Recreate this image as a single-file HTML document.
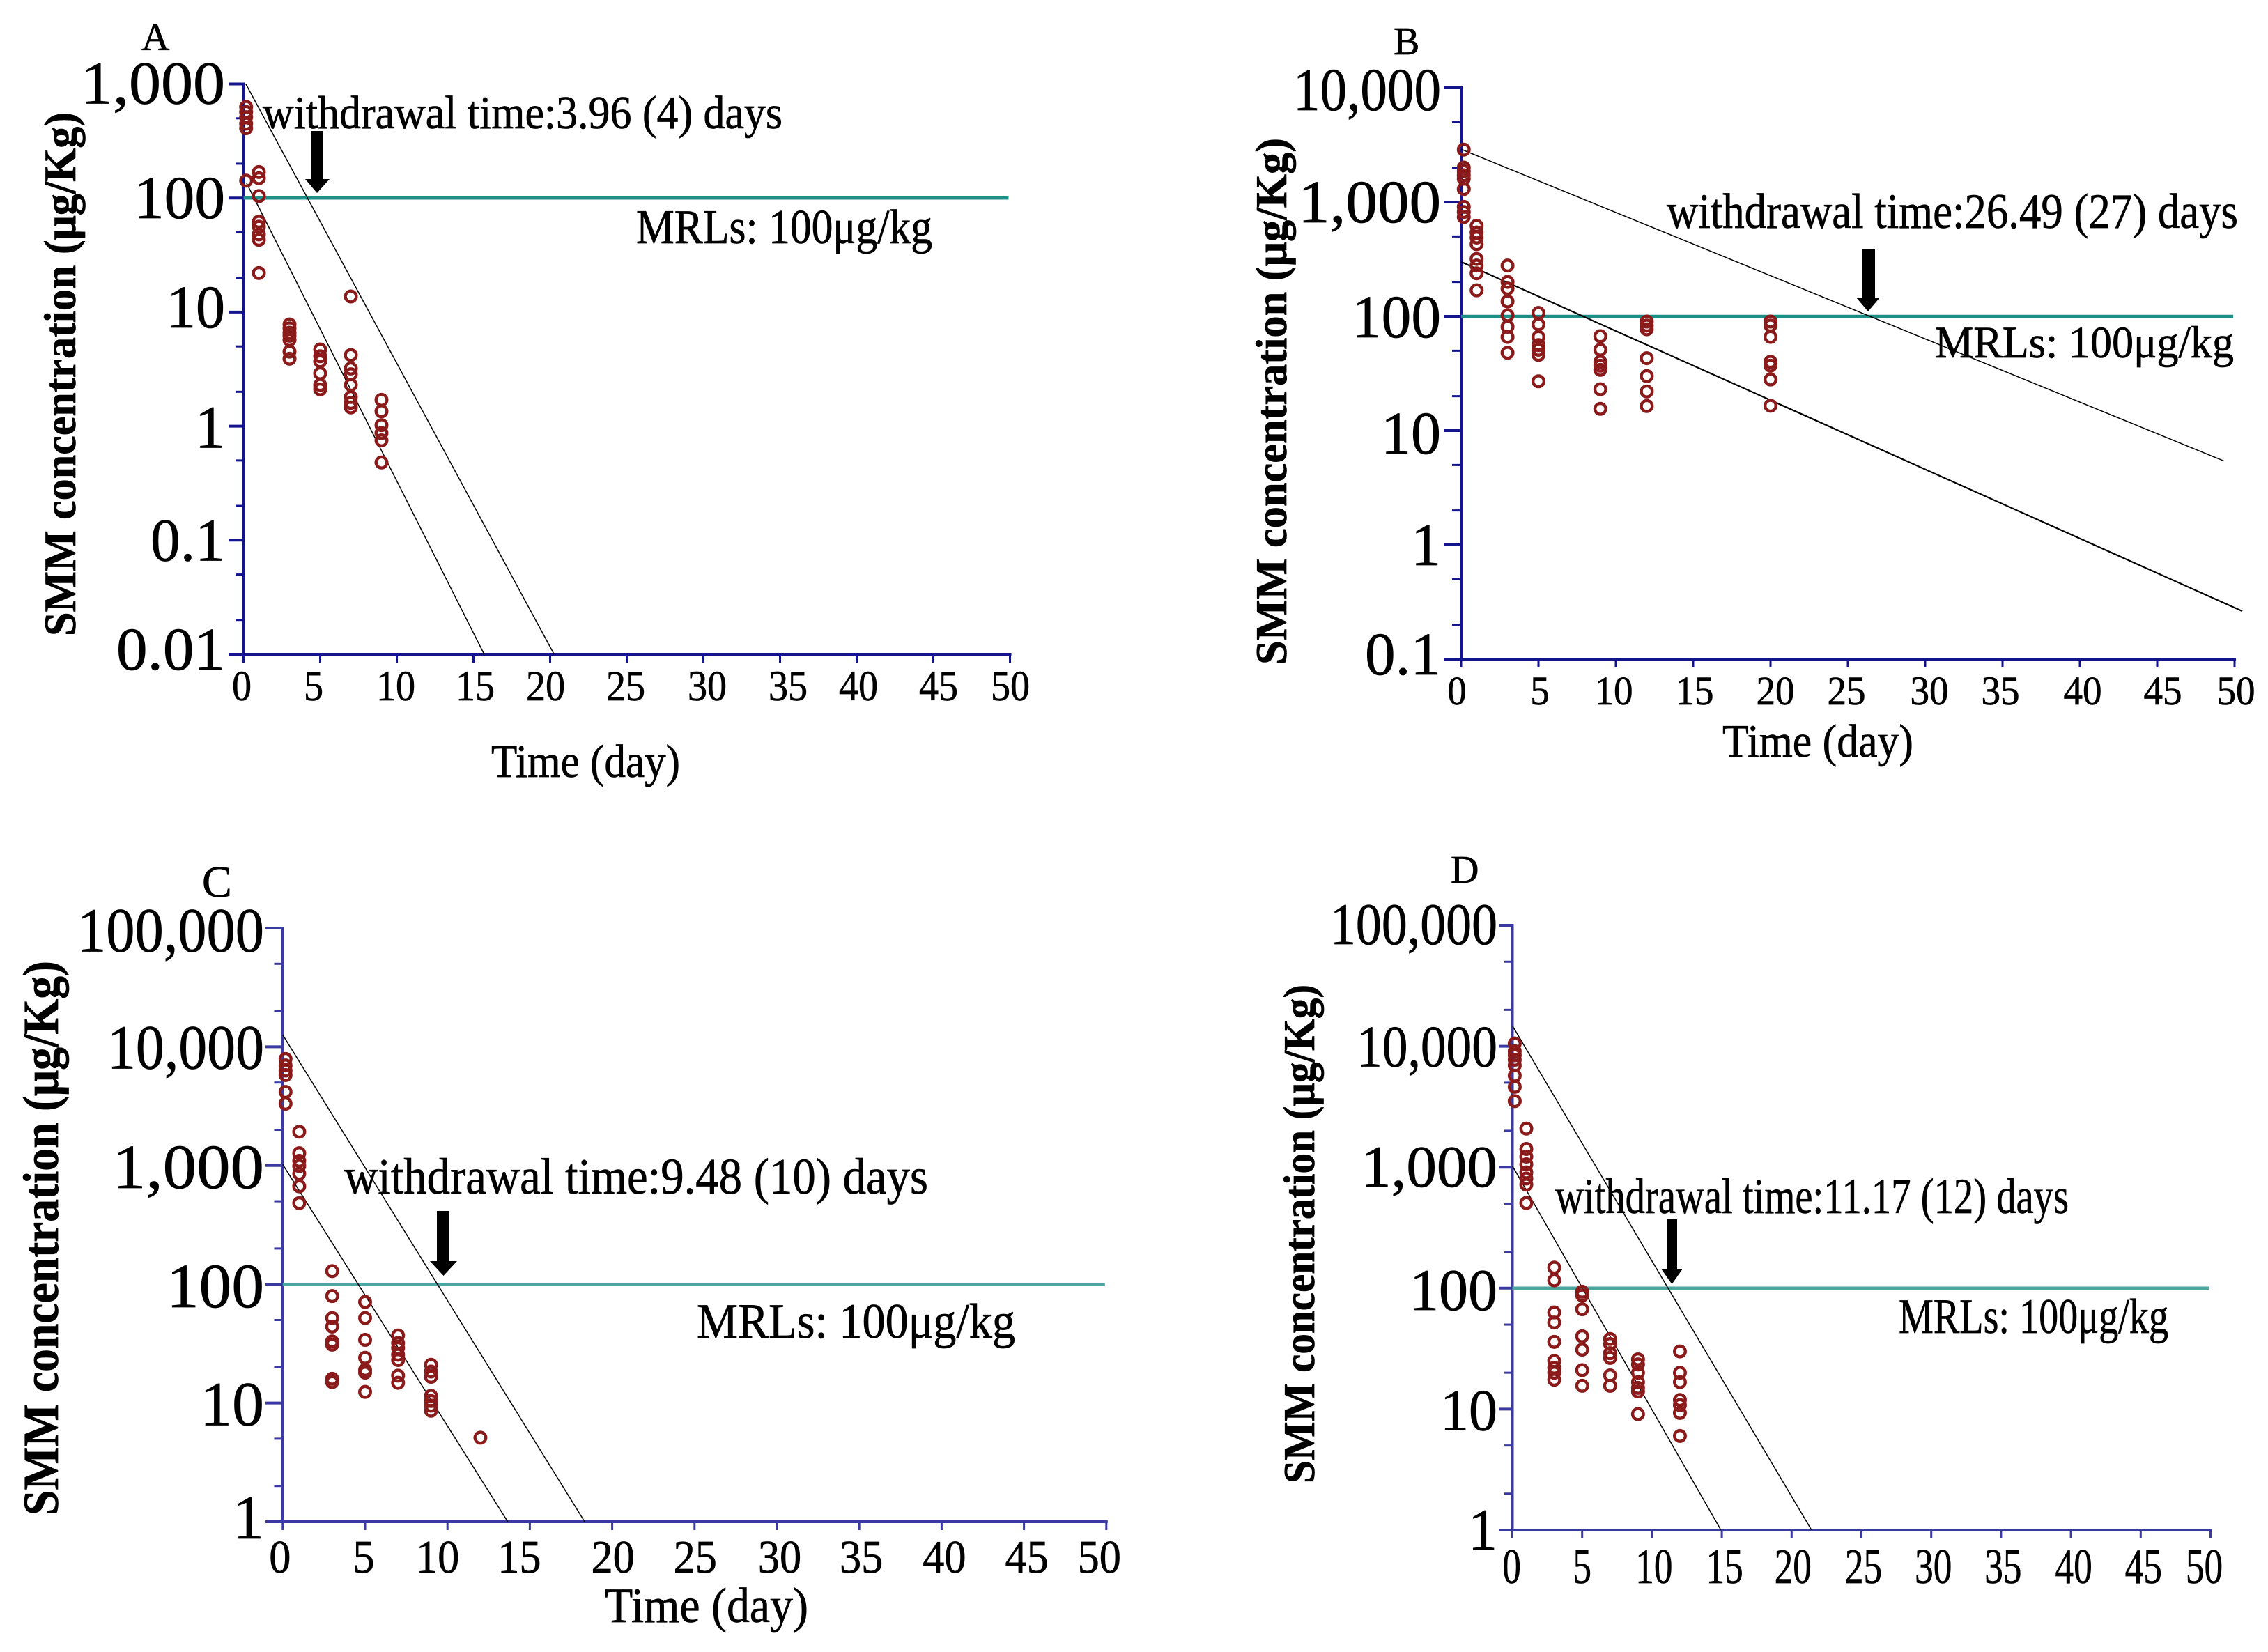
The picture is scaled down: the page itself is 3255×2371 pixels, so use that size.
<!DOCTYPE html>
<html lang="en">
<head>
<meta charset="utf-8">
<title>SMM concentration withdrawal time charts</title>
<style>
html,body{margin:0;padding:0;background:#fff;}
svg{display:block;}
text{font-family:"Liberation Serif",serif;fill:#000;stroke:#000;stroke-width:0.7px;}
</style>
</head>
<body>
<svg id="figure" xmlns="http://www.w3.org/2000/svg" width="3255" height="2371" viewBox="0 0 3255 2371">
<rect x="0" y="0" width="3255" height="2371" fill="#fff"/>
<g id="panel-a"></g>
<g id="panel-b"></g>
<g id="panel-c"></g>
<g id="panel-d"></g>

<g>
<text x="203" y="72" font-size="56">A</text>
<text transform="translate(108,537) rotate(-90)" text-anchor="middle" font-size="65" font-weight="bold" textLength="752" lengthAdjust="spacingAndGlyphs">SMM concentration (μg/Kg)</text>
<text x="377" y="184" font-size="67" textLength="746" lengthAdjust="spacingAndGlyphs">withdrawal time:3.96 (4) days</text>
<text x="913" y="349" font-size="70" textLength="425" lengthAdjust="spacingAndGlyphs">MRLs: 100μg/kg</text>
<text x="705" y="1115" font-size="67" textLength="271" lengthAdjust="spacingAndGlyphs">Time (day)</text>
<polygon points="446,188 464,188 464,257 473,257 455,277 438,257 446,257" fill="#000"/>
</g>

<g>
<text x="2000" y="78" font-size="56">B</text>
<text transform="translate(1846,576) rotate(-90)" text-anchor="middle" font-size="63" font-weight="bold" textLength="756" lengthAdjust="spacingAndGlyphs">SMM concentration (μg/Kg)</text>
<text x="2392" y="327" font-size="71" textLength="820" lengthAdjust="spacingAndGlyphs">withdrawal time:26.49 (27) days</text>
<text x="2777" y="513" font-size="65" textLength="429" lengthAdjust="spacingAndGlyphs">MRLs: 100μg/kg</text>
<text x="2472" y="1086" font-size="67" textLength="274" lengthAdjust="spacingAndGlyphs">Time (day)</text>
<polygon points="2672,358 2691,358 2691,427 2698,427 2681,447 2664,427 2672,427" fill="#000"/>
</g>

<g>
<text x="290" y="1287" font-size="64">C</text>
<text transform="translate(83,1777) rotate(-90)" text-anchor="middle" font-size="72" font-weight="bold" textLength="796" lengthAdjust="spacingAndGlyphs">SMM concentration (μg/Kg)</text>
<text x="494" y="1713" font-size="73" textLength="838" lengthAdjust="spacingAndGlyphs">withdrawal time:9.48 (10) days</text>
<text x="1000" y="1920" font-size="71" textLength="457" lengthAdjust="spacingAndGlyphs">MRLs: 100μg/kg</text>
<text x="868" y="2328" font-size="71" textLength="292" lengthAdjust="spacingAndGlyphs">Time (day)</text>
<polygon points="627,1738 645,1738 645,1810 656,1810 636.500,1831 617,1810 627,1810" fill="#000"/>
</g>

<g>
<text x="2082" y="1267" font-size="56">D</text>
<text transform="translate(1886,1771) rotate(-90)" text-anchor="middle" font-size="63" font-weight="bold" textLength="716" lengthAdjust="spacingAndGlyphs">SMM concentration (μg/Kg)</text>
<text x="2232" y="1741" font-size="72" textLength="737" lengthAdjust="spacingAndGlyphs">withdrawal time:11.17 (12) days</text>
<text x="2725" y="1913" font-size="71" textLength="387" lengthAdjust="spacingAndGlyphs">MRLs: 100μg/kg</text>
<polygon points="2392,1749 2407,1749 2407,1821 2415,1821 2399.500,1843 2384,1821 2392,1821" fill="#000"/>
</g>
</svg>

<script>
// Shared axis values
const xTickDays = [0, 5, 10, 15, 20, 25, 30, 35, 40, 45, 50];
const xTickLabels = ['0', '5', '10', '15', '20', '25', '30', '35', '40', '45', '50'];
const mrlLimit = [100];

// Panel A values
const aDays = [0.17, 1, 3, 5, 7, 9];
const aConcentrations = [
  [630, 568, 512, 449, 409, 142],
  [169, 149, 104, 62, 56, 48, 43, 22],
  [7.8, 7.2, 6.6, 6.2, 5.7, 4.5, 3.9],
  [4.7, 4.1, 3.7, 2.9, 2.3, 2.1],
  [13.7, 4.2, 3.2, 2.85, 2.3, 1.8, 1.6, 1.46],
  [1.7, 1.35, 1.02, 0.87, 0.75, 0.48]
];
const aUpperFitDays = [0.15, 20.26];
const aUpperFitValues = [1000, 0.01];
const aLowerFitDays = [0.2, 15.7];
const aLowerFitValues = [135, 0.01];
const aYTicks = [0.01, 0.1, 1, 10, 100, 1000];
const aYTickLabels = ['0.01', '0.1', '1', '10', '100', '1,000'];

// Panel B values
const bDays = [0.17, 1, 3, 5, 9, 12, 20];
const bConcentrations = [
  [2877, 2005, 1866, 1718, 1600, 1300, 908, 819, 739],
  [620, 542, 489, 428, 318, 278, 238, 169],
  [278, 200, 175, 135, 102, 81, 66, 48],
  [107, 85, 66, 56, 51, 46, 27],
  [67, 51, 40, 37, 34, 23, 15.5],
  [90, 83, 77, 43, 30, 22, 16.4],
  [90, 83, 66, 40, 37, 28, 16.5]
];
const bUpperFitDays = [0, 49.3];
const bUpperFitValues = [2900, 5.43];
const bLowerFitDays = [0, 50.5];
const bLowerFitValues = [300, 0.263];
const bYTicks = [0.1, 1, 10, 100, 1000, 10000];
const bYTickLabels = ['0.1', '1', '10', '100', '1,000', '10,000'];

// Panel C values
const cDays = [0.17, 1, 3, 5, 7, 9, 12];
const cConcentrations = [
  [7900, 6970, 6310, 5780, 4170, 3320],
  [1926, 1270, 1096, 992, 855, 668, 482],
  [129, 79.5, 52, 44, 33, 31, 16, 15],
  [71, 52, 34, 24, 19, 18, 12.4],
  [37, 32, 29, 25.5, 23, 17, 14.8],
  [21, 18.4, 16.6, 11.5, 10.4, 9.5, 8.6],
  [5.1]
];
const cUpperFitDays = [0, 18.33];
const cUpperFitValues = [12600, 1];
const cLowerFitDays = [0, 13.66];
const cLowerFitValues = [1020, 1];
const cYTicks = [1, 10, 100, 1000, 10000, 100000];
const cYTickLabels = ['1', '10', '100', '1,000', '10,000', '100,000'];

// Panel D values
const dDays = [0.17, 1, 3, 5, 7, 9, 12];
const dConcentrations = [
  [10540, 9100, 8430, 7730, 6950, 5720, 4620, 3520],
  [2085, 1415, 1224, 1057, 906, 807, 718, 506],
  [148, 116, 63, 52, 36, 25, 22, 20, 17.5],
  [93.5, 87, 67, 40, 31, 21, 15.6],
  [38, 34.5, 29, 26.5, 19, 15.6],
  [25.8, 23.4, 20, 16.7, 15, 14, 9.1],
  [30, 20, 16.7, 11.9, 10.8, 9.3, 6]
];
const dUpperFitDays = [0, 21.43];
const dUpperFitValues = [14800, 1];
const dLowerFitDays = [0, 14.94];
const dLowerFitValues = [1028, 1];
const dYTicks = [1, 10, 100, 1000, 10000, 100000];
const dYTickLabels = ['1', '10', '100', '1,000', '10,000', '100,000'];

const SVG_NS = 'http://www.w3.org/2000/svg';

function make(parent, tag, attrs) {
  const node = document.createElementNS(SVG_NS, tag);
  Object.keys(attrs).forEach(function (k) { node.setAttribute(k, attrs[k]); });
  parent.appendChild(node);
  return node;
}

function labelWidth(label, font, factor) {
  let em = 0;
  for (const ch of label) { em += (ch === ',' || ch === '.') ? 0.25 : 0.5; }
  return em * font * factor;
}

function drawPanel(hostId, series, layout) {
  const host = document.getElementById(hostId);
  const x = function (day) { return layout.x0 + day * layout.pxPerDay; };
  const y = function (value) {
    return layout.yBottom - (Math.log10(value) - Math.log10(series.yTicks[0])) * layout.pxPerDecade;
  };
  const xEnd = x(xTickDays[xTickDays.length - 1]);
  const yTop = y(series.yTicks[series.yTicks.length - 1]);
  const yBot = y(series.yTicks[0]);

  // minor y ticks at 2x and 5x of each decade
  series.yTicks.slice(0, -1).forEach(function (decade) {
    [2, 5].forEach(function (m) {
      const minor = make(host, 'line', { x1: layout.minorLeft, x2: layout.x0, y1: y(decade * m), y2: y(decade * m), stroke: layout.axisColor, 'stroke-width': 3 });
      
      
    });
  });

  // major y ticks and labels
  series.yTicks.forEach(function (value, i) {
    const tick = make(host, 'line', { x1: layout.majorLeft, x2: layout.x0, y1: y(value), y2: y(value), stroke: layout.axisColor, 'stroke-width': 4 });
    
    
    const label = make(host, 'text', {
      x: layout.yLabelRight, y: y(value) + layout.yLabelDrop[i], 'text-anchor': 'end',
      'font-size': layout.yFont, textLength: layout.yLabelSpan[i],
      lengthAdjust: 'spacingAndGlyphs'
    });
    label.textContent = series.yTickLabels[i];
    
    
  });

  // x ticks and labels
  xTickDays.forEach(function (day, i) {
    const tick = make(host, 'line', { x1: x(day), x2: x(day), y1: yBot, y2: yBot + 12, stroke: layout.axisColor, 'stroke-width': 3 });
    
    
    const label = make(host, 'text', {
      x: x(day) + layout.xNudge[i], y: layout.xLabelBase, 'text-anchor': 'middle',
      'font-size': layout.xFont, textLength: labelWidth(xTickLabels[i], layout.xFont, layout.xFactor),
      lengthAdjust: 'spacingAndGlyphs'
    });
    label.textContent = xTickLabels[i];
    
    
  });

  // axes
  const yAxis = make(host, 'line', { x1: layout.x0, x2: layout.x0, y1: yTop - 2, y2: yBot + 2, stroke: layout.axisColor, 'stroke-width': 4 });
  
  
  const xAxis = make(host, 'line', { x1: layout.majorLeft, x2: xEnd + 2, y1: yBot, y2: yBot, stroke: layout.axisColor, 'stroke-width': 4 });
  
  

  // MRL reference line
  const mrl = make(host, 'line', { x1: layout.x0, x2: xEnd - 2, y1: y(mrlLimit[0]), y2: y(mrlLimit[0]), stroke: layout.mrlColor, 'stroke-width': 4.5 });
  
  

  // fit lines
  const upper = make(host, 'line', {
    x1: x(series.upperDays[0]), y1: y(series.upperValues[0]), x2: x(series.upperDays[1]), y2: y(series.upperValues[1]),
    stroke: '#000', 'stroke-width': 1.5
  });
  
  
  const lower = make(host, 'line', {
    x1: x(series.lowerDays[0]), y1: y(series.lowerValues[0]), x2: x(series.lowerDays[1]), y2: y(series.lowerValues[1]),
    stroke: '#000', 'stroke-width': layout.lowerWidth
  });
  
  

  // points
  series.days.forEach(function (day, d) {
    series.concentrations[d].forEach(function (value) {
      const point = make(host, 'circle', { cx: x(day), cy: y(value), r: 7.8, fill: 'none', stroke: '#8b1a1a', 'stroke-width': 4.4 });
      
      
    });
  });
}

drawPanel('panel-a',
  { days: aDays, concentrations: aConcentrations, upperDays: aUpperFitDays, upperValues: aUpperFitValues,
    lowerDays: aLowerFitDays, lowerValues: aLowerFitValues, yTicks: aYTicks, yTickLabels: aYTickLabels },
  { x0: 349.5, pxPerDay: 22, yBottom: 939, pxPerDecade: 163.7, majorLeft: 328, minorLeft: 338,
    axisColor: '#14148c', mrlColor: '#1f9088', lowerWidth: 1.5,
    yLabelRight: 323, yFont: 87, yLabelSpan: [156, 107, 43, 84, 131, 207], yLabelDrop: [22, 29, 31, 22, 29, 28],
    xLabelBase: 1005, xFont: 61, xFactor: 0.92, xNudge: [-2.5, -9.5, -1.5, 2.5, -6.5, -1.5, 5.5, 11.5, 2.5, 7.5, 0.5] });

drawPanel('panel-b',
  { days: bDays, concentrations: bConcentrations, upperDays: bUpperFitDays, upperValues: bUpperFitValues,
    lowerDays: bLowerFitDays, lowerValues: bLowerFitValues, yTicks: bYTicks, yTickLabels: bYTickLabels },
  { x0: 2097, pxPerDay: 22.2, yBottom: 946, pxPerDecade: 164, majorLeft: 2072, minorLeft: 2084,
    axisColor: '#14148c', mrlColor: '#1f9088', lowerWidth: 2.2,
    yLabelRight: 2068, yFont: 87, yLabelSpan: [109, 43, 86, 128, 205, 212], yLabelDrop: [22, 29, 33, 30, 29, 32],
    xLabelBase: 1011, xFont: 58, xFactor: 0.95, xNudge: [-6, 2, -3, 2, 7, -2, 6, -3, 4, 8, 2] });

drawPanel('panel-c',
  { days: cDays, concentrations: cConcentrations, upperDays: cUpperFitDays, upperValues: cUpperFitValues,
    lowerDays: cLowerFitDays, lowerValues: cLowerFitValues, yTicks: cYTicks, yTickLabels: cYTickLabels },
  { x0: 405.8, pxPerDay: 23.64, yBottom: 2184, pxPerDecade: 170.4, majorLeft: 381, minorLeft: 393.5,
    axisColor: '#3a3aa2', mrlColor: '#4aa79f', lowerWidth: 1.5,
    yLabelRight: 379, yFont: 90, yLabelSpan: [45, 92, 140, 218, 225, 268], yLabelDrop: [24, 32, 33, 32, 31, 33.5],
    xLabelBase: 2257, xFont: 67, xFactor: 0.93, xNudge: [-4, -2, -14, -15, 1, 1, 4, 3, 4, 4, -10] });

drawPanel('panel-d',
  { days: dDays, concentrations: dConcentrations, upperDays: dUpperFitDays, upperValues: dUpperFitValues,
    lowerDays: dLowerFitDays, lowerValues: dLowerFitValues, yTicks: dYTicks, yTickLabels: dYTickLabels },
  { x0: 2170.5, pxPerDay: 20.04, yBottom: 2196, pxPerDecade: 173.6, majorLeft: 2152, minorLeft: 2159,
    axisColor: '#3a3aa2', mrlColor: '#4aa79f', lowerWidth: 1.5,
    yLabelRight: 2149, yFont: 85, yLabelSpan: [42, 82, 126, 196, 202, 240], yLabelDrop: [28, 30, 31, 28, 29, 27],
    xLabelBase: 2272, xFont: 71, xFactor: 0.75, xNudge: [-1, 0, 3, 4, 2, 3, 3, 3, 4, 4, -9] });
</script>
</body>
</html>
